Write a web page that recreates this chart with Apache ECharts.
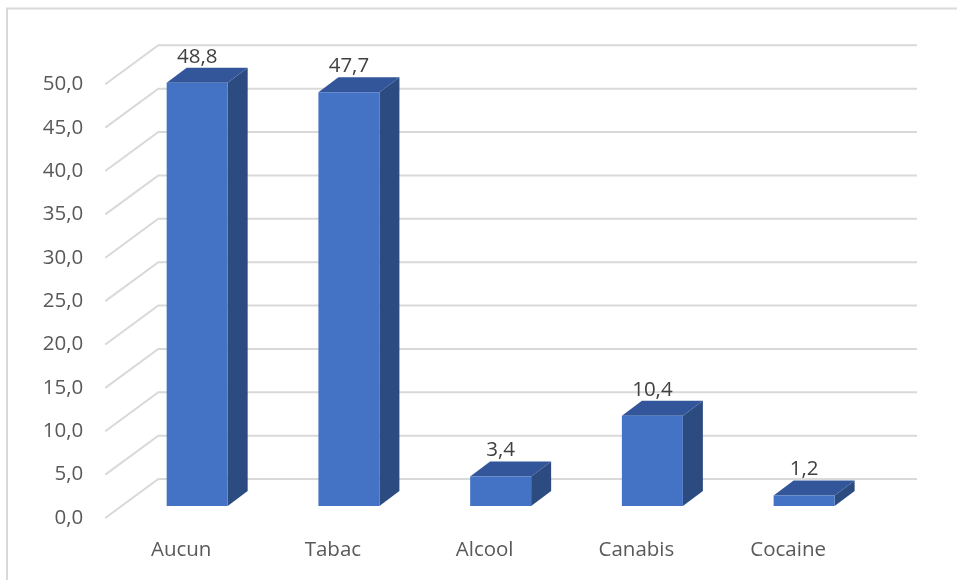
<!DOCTYPE html>
<html>
<head>
<meta charset="utf-8">
<style>
  html, body { margin: 0; padding: 0; background: #ffffff; }
  #chart { width: 957px; height: 580px; }
</style>
<script src="https://cdn.jsdelivr.net/npm/echarts@6/dist/echarts.min.js"></script>
</head>
<body>
<div id="chart"></div>
<script>
// Substances consommées (%)
var categories = ['Aucun', 'Tabac', 'Alcool', 'Canabis', 'Cocaine'];
var values = [48.8, 47.7, 3.4, 10.4, 1.2];
var yTicks = [0, 5, 10, 15, 20, 25, 30, 35, 40, 45, 50];

// pseudo-3D geometry (pixels)
var DEPTH_X = 20, DEPTH_Y = -15;      // bar depth
var WALL_X = 37, WALL_Y = -27;        // back wall offset from bar plane
var FLOOR_X = -16, FLOOR_Y = 12;      // front edge of floor from bar plane
var BAR_W = 61;
var FONT = '20.5px "Open Sans"';

function fmt(v) { return v.toFixed(1).replace('.', ','); }

var chart = echarts.init(document.getElementById('chart'), null, { renderer: 'canvas' });

chart.setOption({
  animation: false,
  backgroundColor: '#ffffff',
  graphic: [{
    type: 'polyline',
    shape: { points: [[7, 580], [7, 8.5], [957, 8.5]] },
    style: { stroke: '#d9d9d9', lineWidth: 2, fill: null },
    silent: true
  }],
  grid: { left: 121.3, right: 77, top: 72.3, bottom: 74, containLabel: false },
  xAxis: {
    type: 'category',
    data: categories,
    axisLine: { show: false },
    axisTick: { show: false },
    splitLine: { show: false },
    axisLabel: {
      margin: 34,
      padding: [0, 32, 0, 0],
      color: '#595959',
      fontFamily: 'Open Sans',
      fontSize: 20.5
    }
  },
  yAxis: {
    type: 'value',
    min: 0,
    max: 50,
    interval: 5,
    axisLine: { show: false },
    axisTick: { show: false },
    splitLine: { show: false },
    axisLabel: { show: false }
  },
  series: [
    {
      // floor-to-wall gridlines and value-axis labels on the floor edge
      type: 'custom',
      silent: true,
      z: 1,
      data: yTicks.map(function (t) { return [0, t]; }),
      renderItem: function (params, api) {
        var cs = params.coordSys;
        var v = api.value(1);
        var y = api.coord([0, v])[1];
        var x0 = cs.x;
        return {
          type: 'group',
          children: [
            {
              type: 'polyline',
              shape: {
                points: [
                  [x0 + FLOOR_X, y + FLOOR_Y],
                  [x0 + WALL_X, y + WALL_Y],
                  [x0 + cs.width + WALL_X, y + WALL_Y]
                ]
              },
              style: { stroke: '#d9d9d9', lineWidth: 2, fill: null }
            },
            {
              type: 'text',
              x: x0 + FLOOR_X - 22,
              y: y + FLOOR_Y,
              style: {
                text: fmt(v),
                fill: '#595959',
                font: FONT,
                align: 'right',
                verticalAlign: 'middle'
              }
            }
          ]
        };
      }
    },
    {
      // 3D bars with value labels
      type: 'custom',
      z: 2,
      data: values.map(function (v, i) { return [i, v]; }),
      renderItem: function (params, api) {
        var top = api.coord([api.value(0), api.value(1)]);
        var base = api.coord([api.value(0), 0]);
        var L = top[0] - BAR_W / 2, R = top[0] + BAR_W / 2;
        var T = top[1], B = base[1];
        return {
          type: 'group',
          children: [
            {
              type: 'polygon',
              shape: { points: [[R, T], [R + DEPTH_X, T + DEPTH_Y], [R + DEPTH_X, B + DEPTH_Y], [R, B]] },
              style: { fill: '#2c4b80' }
            },
            {
              type: 'polygon',
              shape: { points: [[L, T], [R, T], [R + DEPTH_X, T + DEPTH_Y], [L + DEPTH_X, T + DEPTH_Y]] },
              style: { fill: '#325699' }
            },
            {
              type: 'rect',
              shape: { x: L, y: T, width: BAR_W, height: B - T },
              style: { fill: '#4472c4' }
            },
            {
              type: 'text',
              x: top[0],
              y: T - 26,
              style: {
                text: fmt(api.value(1)),
                fill: '#404040',
                font: FONT,
                align: 'center',
                verticalAlign: 'middle'
              }
            }
          ]
        };
      }
    }
  ]
});
</script>
</body>
</html>
